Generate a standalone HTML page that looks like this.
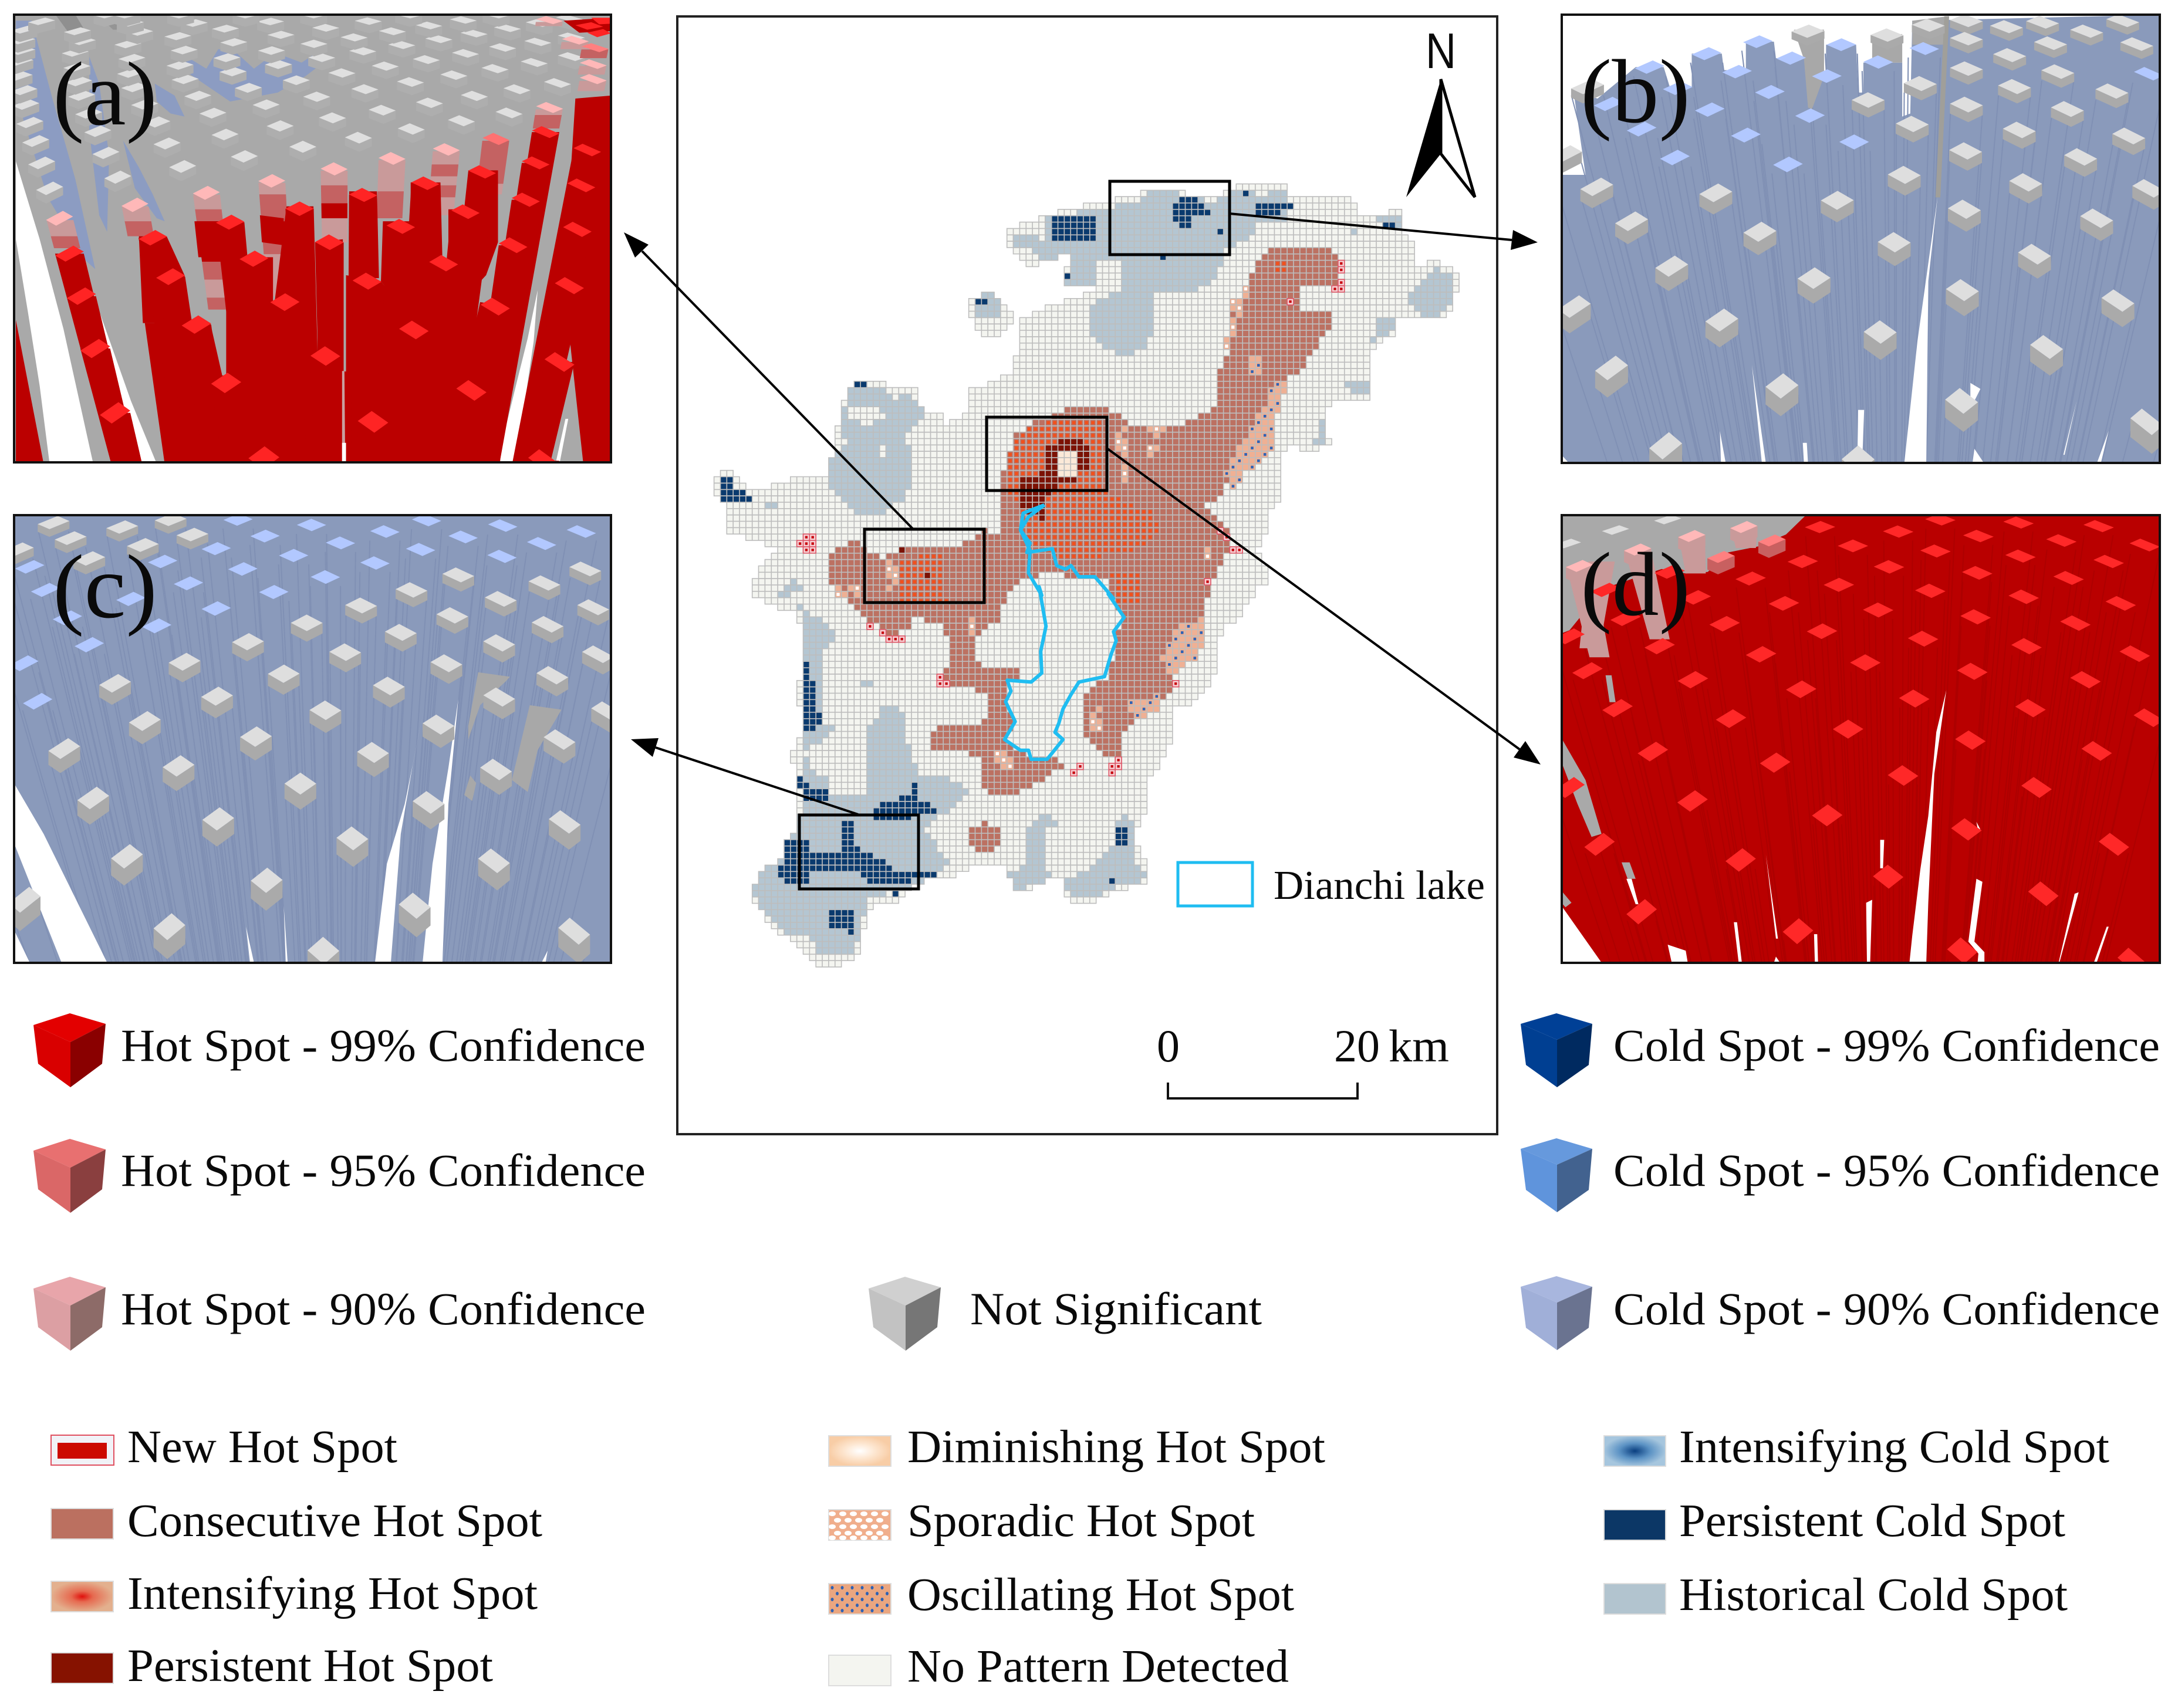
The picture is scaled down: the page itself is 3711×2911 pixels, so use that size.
<!DOCTYPE html>
<html lang="en">
<head>
<meta charset="utf-8">
<title>Hot spot analysis of Dianchi lake region</title>
<style>
html,body{margin:0;padding:0;background:#fff}
svg{display:block}
text{font-family:"Liberation Serif",serif;fill:#0a0a0a}
</style>
</head>
<body>
<svg id="fig" xmlns="http://www.w3.org/2000/svg" width="3711" height="2911" viewBox="0 0 3711 2911">
<defs>
<radialGradient id="gInt"><stop offset="0" stop-color="#e0100c"/><stop offset=".35" stop-color="#e66a50"/><stop offset="1" stop-color="#e3b08e"/></radialGradient>
<radialGradient id="gDim"><stop offset="0" stop-color="#ffffff"/><stop offset=".5" stop-color="#fde6d0"/><stop offset="1" stop-color="#f8cda6"/></radialGradient>
<radialGradient id="gCold"><stop offset="0" stop-color="#0a3f80"/><stop offset=".5" stop-color="#5b92c4"/><stop offset="1" stop-color="#a6c6de"/></radialGradient>
<clipPath id="clipA"><rect x="35" y="10" width="1505" height="1495"/></clipPath>
<clipPath id="clipB"><rect x="30" y="10" width="1492" height="1497"/></clipPath>
<clipPath id="clipC"><rect x="35" y="35" width="1505" height="1495"/></clipPath>
<clipPath id="clipD"><rect x="30" y="35" width="1492" height="1495"/></clipPath>
</defs>

<rect x="1154" y="28" width="1397" height="1905" fill="#fff" stroke="#222" stroke-width="4"/>
<g id="mapCells"></g>
<polyline id="lake" fill="none" stroke="#1fbdf1" stroke-width="6" stroke-linejoin="round" points=""/>

<g fill="none" stroke="#000" stroke-width="5">
<rect x="1891" y="309" width="204" height="125"/>
<rect x="1681" y="711" width="205" height="125"/>
<rect x="1473" y="902" width="204" height="125"/>
<rect x="1362" y="1389" width="203" height="126"/>
</g>

<g transform="translate(0,20) scale(0.6761,0.5102)"><g id="panelA" clip-path="url(#clipA)"></g></g>
<g transform="translate(2640,20) scale(0.6831,0.5102)"><g id="panelB" clip-path="url(#clipB)"></g></g>
<g transform="translate(0,860) scale(0.6761,0.5102)"><g id="panelC" clip-path="url(#clipC)"></g></g>
<g transform="translate(2640,860) scale(0.6831,0.5102)"><g id="panelD" clip-path="url(#clipD)"></g></g>
<g fill="none" stroke="#111" stroke-width="4">
<rect x="24" y="25" width="1017" height="763"/>
<rect x="2661" y="25" width="1019" height="764"/>
<rect x="24" y="878" width="1017" height="763"/>
<rect x="2661" y="878" width="1019" height="763"/>
</g>
<text x="90" y="212" font-size="155" textLength="178" lengthAdjust="spacingAndGlyphs">(a)</text>
<text x="2693" y="208" font-size="155" textLength="187" lengthAdjust="spacingAndGlyphs">(b)</text>
<text x="90" y="1052" font-size="155" textLength="178" lengthAdjust="spacingAndGlyphs">(c)</text>
<text x="2693" y="1048" font-size="155" textLength="187" lengthAdjust="spacingAndGlyphs">(d)</text>

<g stroke="#000" stroke-width="4" fill="#000">
<g><line x1="1556" y1="902" x2="1094" y2="428"/><polygon stroke="none" points="1063,396 1105,417 1082,439"/></g>
<g><line x1="2095" y1="364" x2="2576" y2="409"/><polygon stroke="none" points="2620,413 2574,426 2578,392"/></g>
<g><line x1="1886" y1="764" x2="2589" y2="1277"/><polygon stroke="none" points="2625,1303 2579,1291 2599,1263"/></g>
<g><line x1="1462" y1="1388" x2="1117" y2="1274"/><polygon stroke="none" points="1075,1260 1122,1258 1112,1290"/></g>
</g>

<g>
<text x="2429" y="116" font-size="85" textLength="52" lengthAdjust="spacingAndGlyphs" style="font-family:'Liberation Sans',sans-serif">N</text>
<polygon points="2455,135 2396,336 2455,262" fill="#000"/>
<polygon points="2455,135 2513,336 2455,262" fill="#fff" stroke="#000" stroke-width="5"/>
</g>

<g>
<rect x="2007" y="1470" width="127" height="74" fill="#fff" stroke="#1fbdf1" stroke-width="5"/>
<text x="2170" y="1532" font-size="70" textLength="360" lengthAdjust="spacingAndGlyphs">Dianchi lake</text>
</g>

<g>
<polyline points="1990,1845 1990,1872 2313,1872 2313,1845" fill="none" stroke="#111" stroke-width="4"/>
<text x="1971" y="1809" font-size="78">0</text>
<text x="2273" y="1809" font-size="78">20</text>
<text x="2366" y="1809" font-size="78" textLength="103" lengthAdjust="spacingAndGlyphs">km</text>
</g>

<g>
<g>
<polygon points="57,1747 119,1727 180,1745 120,1776" fill="#e30000"/><polygon points="57,1747 120,1776 120,1853 65,1813" fill="#d90000"/><polygon points="180,1745 120,1776 120,1853 174,1813" fill="#8a0000"/>
<text x="206" y="1808" font-size="78" textLength="894" lengthAdjust="spacingAndGlyphs">Hot Spot - 99% Confidence</text></g>
<g transform="translate(0,214)">
<polygon points="57,1747 119,1727 180,1745 120,1776" fill="#e87070"/><polygon points="57,1747 120,1776 120,1853 65,1813" fill="#da6767"/><polygon points="180,1745 120,1776 120,1853 174,1813" fill="#8a3f3f"/>
<text x="206" y="1807" font-size="78" textLength="894" lengthAdjust="spacingAndGlyphs">Hot Spot - 95% Confidence</text></g>
<g transform="translate(0,449)">
<polygon points="57,1747 119,1727 180,1745 120,1776" fill="#e8a5aa"/><polygon points="57,1747 120,1776 120,1853 65,1813" fill="#dc9fa3"/><polygon points="180,1745 120,1776 120,1853 174,1813" fill="#8d6b68"/>
<text x="206" y="1808" font-size="78" textLength="894" lengthAdjust="spacingAndGlyphs">Hot Spot - 90% Confidence</text></g>
<g transform="translate(1423,449)">
<polygon points="57,1747 119,1727 180,1745 120,1776" fill="#d0d0d0"/><polygon points="57,1747 120,1776 120,1853 65,1813" fill="#c2c2c2"/><polygon points="180,1745 120,1776 120,1853 174,1813" fill="#767676"/>
<text x="230" y="1808" font-size="78" textLength="497" lengthAdjust="spacingAndGlyphs">Not Significant</text></g>
<g>
<polygon points="2591,1745 2652,1727 2713,1745 2653,1772" fill="#004096"/><polygon points="2591,1745 2653,1772 2653,1853 2600,1815" fill="#003f92"/><polygon points="2713,1745 2653,1772 2653,1853 2707,1815" fill="#002a60"/>
<text x="2749" y="1808" font-size="78" textLength="931" lengthAdjust="spacingAndGlyphs">Cold Spot - 99% Confidence</text></g>
<g transform="translate(0,213)">
<polygon points="2591,1745 2652,1727 2713,1745 2653,1772" fill="#6699dd"/><polygon points="2591,1745 2653,1772 2653,1853 2600,1815" fill="#5f94dc"/><polygon points="2713,1745 2653,1772 2653,1853 2707,1815" fill="#42628f"/>
<text x="2749" y="1808" font-size="78" textLength="931" lengthAdjust="spacingAndGlyphs">Cold Spot - 95% Confidence</text></g>
<g transform="translate(0,448)">
<polygon points="2591,1745 2652,1727 2713,1745 2653,1772" fill="#a8b6de"/><polygon points="2591,1745 2653,1772 2653,1853 2600,1815" fill="#a0afd8"/><polygon points="2713,1745 2653,1772 2653,1853 2707,1815" fill="#6a7390"/>
<text x="2749" y="1809" font-size="78" textLength="931" lengthAdjust="spacingAndGlyphs">Cold Spot - 90% Confidence</text></g>
</g>

<g>
<g><rect x="87" y="2446" width="107" height="51" fill="#f1f2f7" stroke="#e05060" stroke-width="2"/><rect x="98" y="2459" width="84" height="27" fill="#cc0a00"/><text x="217" y="2492" font-size="79" textLength="460" lengthAdjust="spacingAndGlyphs">New Hot Spot</text></g>
<g><rect x="87" y="2571" width="106" height="52" fill="#bb7060" stroke="#ddd" stroke-width="2"/><text x="217" y="2618" font-size="79" textLength="707" lengthAdjust="spacingAndGlyphs">Consecutive Hot Spot</text></g>
<g><rect x="87" y="2695" width="106" height="52" fill="url(#gInt)" stroke="#ddd" stroke-width="2"/><text x="217" y="2742" font-size="79" textLength="699" lengthAdjust="spacingAndGlyphs">Intensifying Hot Spot</text></g>
<g><rect x="87" y="2817" width="106" height="52" fill="#861200" stroke="#ddd" stroke-width="2"/><text x="217" y="2865" font-size="79" textLength="623" lengthAdjust="spacingAndGlyphs">Persistent Hot Spot</text></g>
<g><rect x="1412" y="2447" width="106" height="52" fill="url(#gDim)" stroke="#ddd" stroke-width="2"/><text x="1546" y="2492" font-size="79" textLength="712" lengthAdjust="spacingAndGlyphs">Diminishing Hot Spot</text></g>
<g><rect x="1412" y="2573" width="106" height="52" fill="#f0ae8c" stroke="#ddd" stroke-width="2"/><g id="swSpoDots" fill="#fff"></g><text x="1546" y="2618" font-size="79" textLength="592" lengthAdjust="spacingAndGlyphs">Sporadic Hot Spot</text></g>
<g><rect x="1412" y="2699" width="106" height="52" fill="#eaa680" stroke="#ddd" stroke-width="2"/><g id="swOscDots" fill="#2f62b4"></g><text x="1546" y="2744" font-size="79" textLength="659" lengthAdjust="spacingAndGlyphs">Oscillating Hot Spot</text></g>
<g><rect x="1412" y="2821" width="106" height="52" fill="#f4f5f0" stroke="#ddd" stroke-width="2"/><text x="1546" y="2866" font-size="79" textLength="650" lengthAdjust="spacingAndGlyphs">No Pattern Detected</text></g>
<g><rect x="2733" y="2447" width="105" height="52" fill="url(#gCold)" stroke="#ddd" stroke-width="2"/><text x="2861" y="2492" font-size="79" textLength="733" lengthAdjust="spacingAndGlyphs">Intensifying Cold Spot</text></g>
<g><rect x="2733" y="2573" width="105" height="52" fill="#0c3766" stroke="#ddd" stroke-width="2"/><text x="2861" y="2618" font-size="79" textLength="658" lengthAdjust="spacingAndGlyphs">Persistent Cold Spot</text></g>
<g><rect x="2733" y="2699" width="105" height="52" fill="#b2c4cf" stroke="#ddd" stroke-width="2"/><text x="2861" y="2744" font-size="79" textLength="662" lengthAdjust="spacingAndGlyphs">Historical Cold Spot</text></g>
</g>
</svg>

<script>
var NS = 'http://www.w3.org/2000/svg';

/* ---------- map regions (traced outlines; y >= 2000 marks lower-map trace) ---------- */
var footprintRegions = [
[630,580,700,545,795,510,870,490,905,475,930,475,1010,505,1060,465,1145,460,1150,500,1260,490,1290,540,1320,545,1365,530,1370,600,1390,620,1390,680,1430,670,1475,700,1465,790,1440,820,1400,820,1355,810,1355,860,1310,900,1310,970,1305,1040,1240,1040,1215,1090,1230,1150,1190,1180,1170,1165,1150,1160,1135,1200,1135,1300,1110,1350,1110,1400,1095,1440,1110,1480,1110,1540,1095,2000,1060,2090,1030,2100,1015,2230,1000,2285,975,2320,930,2340,940,2395,925,2465,890,2540,890,2620,875,2650,865,2700,890,2780,880,2830,840,2840,780,2885,740,2870,730,2810,700,2800,660,2850,635,2830,625,2780,575,2770,540,2795,500,2810,470,2800,425,2870,370,2890,360,2920,340,3030,280,3065,255,3040,210,2975,170,2920,140,2850,160,2800,220,2730,235,2640,220,2460,240,2400,232,2290,245,2150,230,2070,195,2060,150,2030,150,1510,195,1430,100,1390,100,1330,75,1285,80,1240,105,1220,130,1270,175,1270,235,1240,290,1250,300,1190,310,1070,330,1010,350,980,370,985,410,1000,450,1000,455,1060,500,1070,510,1100,545,1080,560,1000,600,995,640,960,650,820,700,790,730,780,760,760,790,740,730,735,745,650,700,660,670,700,660,665,625,625],
[550,780,580,750,605,770,635,810,630,845,595,875,575,870,560,820]
];
var historicalColdRegions = [
[635,595,670,600,700,610,700,545,800,530,870,505,905,475,930,480,1010,510,1060,475,1110,490,1145,475,1150,560,1090,560,1085,600,1060,615,1030,640,1025,690,1000,735,960,750,905,750,905,860,875,905,845,925,815,905,780,860,775,810,790,770,840,750,840,665,795,665,795,735,735,735,745,650,695,665,670,640,635,625],
[560,770,590,750,608,775,608,820,560,820],
[1380,760,1430,685,1465,700,1460,770,1440,820,1410,810,1380,785],
[1305,885,1330,810,1355,810,1350,850,1310,890],
[1255,980,1305,980,1305,1025,1270,1025],
[1208,1085,1230,1090,1225,1150,1205,1150],
[1270,580,1295,600,1280,612],
[1320,545,1365,545,1365,575,1330,575],
[330,1010,400,1005,410,1040,435,1015,465,1065,465,1095,430,1130,450,1190,450,1220,440,1270,425,1310,380,1350,340,1350,330,1320,295,1280,295,1200,320,1150,315,1070],
[170,1305,195,1305,195,1325,170,1325],
[195,1560,225,1515,245,1560,240,2000,195,2040],
[232,2040,270,2090,305,2130,280,2180,282,2380,305,2390,280,2430,245,2450,250,2500,285,2530,285,2575,362,2575,355,2420,365,2390,390,2340,425,2340,440,2450,460,2520,520,2535,550,2565,520,2620,470,2665,490,2720,515,2770,490,2800,420,2850,365,2860,345,2960,340,3030,270,3030,268,2985,210,2960,170,2910,145,2850,165,2790,210,2750,235,2640,245,2580,245,2450,235,2400,245,2300,245,2170],
[660,2670,690,2630,730,2650,700,2670,695,2760,710,2810,670,2830,640,2850,630,2800,660,2760],
[780,2790,830,2700,835,2630,855,2640,865,2700,860,2770,885,2790,880,2830,835,2830,780,2870,745,2870,730,2810],
[352,2265,368,2265,368,2285,352,2285]
];
var noPatternHoles = [
[330,1050,400,1070,370,1110,330,1090],
[380,1150,400,1150,400,1185,380,1185]
];
var consecutiveHotRegions = [
[1120,635,1190,625,1245,640,1245,730,1180,735,1170,800,1230,805,1230,850,1195,925,1165,975,1140,985,1125,1045,1115,1110,1075,1130,1055,1180,1040,1260,1025,1300,1000,1320,1050,1400,1020,1500,1000,1568,605,1568,605,1400,620,1290,610,1260,640,1130,670,1100,760,1050,805,1050,840,1080,860,1105,950,1105,1020,1060,1015,970,1040,920,1050,800,1090,680],
[295,1445,340,1415,390,1460,435,1430,500,1430,530,1440,580,1380,610,1400,650,1568,650,2000,625,2060,610,2090,600,2110,560,2140,565,2215,680,2235,670,2240,625,2260,620,2310,640,2370,620,2420,640,2460,680,2470,750,2490,720,2510,680,2550,625,2590,585,2570,570,2470,478,2445,480,2400,500,2385,580,2380,590,2300,500,2260,510,2230,520,2180,505,2100,450,2090,445,2125,395,2130,390,2120,345,2070,300,2010,295,2000],
[830,2000,1000,2000,1000,2070,990,2100,915,2200,940,2280,905,2340,860,2380,838,2410,838,2470,810,2470,770,2420,770,2300,810,2250,825,2190,825,2130,845,2090,815,2020],
[580,2650,610,2680,610,2720,590,2740,565,2740,550,2710,550,2680]
];
var lakeInteriorRegion = [640,1530,690,1500,810,1520,815,2020,845,2090,825,2130,825,2190,810,2255,760,2265,730,2340,715,2405,730,2425,690,2480,650,2460,620,2425,640,2380,625,2310,640,2290,680,2240,565,2215,565,2140,610,2090,625,2030];
var sporadicRegions = [
[1045,780,1070,730,1085,730,1060,830,1045,900,1035,910],
[880,1105,930,1105,930,1130,880,1130],
[905,1130,915,1130,900,1200,880,1200],
[830,1100,855,1100,850,1260,840,1260],
[780,2340,805,2340,805,2400,780,2400],
[400,1465,416,1465,416,1550,400,1550],
[1000,1410,1012,1410,1012,1460,1000,1460],
[605,2460,632,2460,632,2510,605,2510],
[300,1540,345,1540,345,1568,300,1568],
[550,2090,562,2090,562,2140,550,2140]
];
var oscillatingRegions = [
[1125,990,1155,980,1130,1080,1130,1170,1075,1230,1050,1280,1035,1230,1075,1130,1085,1100,1115,1050],
[945,2100,990,2090,1000,2130,980,2200,930,2250,915,2200,935,2150],
[855,2320,915,2300,905,2350,860,2370],
[1075,915,1110,915,1105,970,1075,970]
];
var intensifyingHotRegions = [
[650,1130,680,1100,760,1090,810,1090,810,1280,820,1290,900,1340,915,1380,880,1430,830,1450,720,1470,660,1400,640,1300,620,1270,625,1160],
[415,1470,500,1440,510,1568,525,2050,415,2050],
[1125,660,1155,660,1155,700,1125,700],
[820,1500,880,1500,880,2050,835,2050]
];
var persistentHotRegions = [
[705,1155,740,1135,770,1140,780,1180,780,1220,755,1225,750,1260,690,1260,700,1160],
[650,1240,710,1230,720,1280,690,1290,700,1360,650,1330],
[425,1430,438,1430,438,1445,425,1445],
[463,1498,475,1498,475,1512,463,1512]
];
var diminishingRegions = [[720,1180,755,1170,755,1250,715,1250]];
var persistentColdRegions = [
[708,545,792,545,792,612,708,612],
[950,495,985,495,985,510,1010,530,1010,545,975,545,975,575,950,575,940,555,940,510],
[1062,475,1085,475,1085,490,1062,490],
[1088,510,1158,510,1158,530,1110,545,1088,560],
[1025,580,1037,580,1037,595,1025,595],
[915,650,925,650,925,665,915,665],
[733,700,743,700,743,716,733,716],
[562,770,585,770,585,785,562,785],
[1330,565,1352,565,1352,578,1330,578],
[342,995,365,995,365,1010,342,1010],
[87,1240,110,1240,110,1270,135,1275,147,1320,87,1305,85,1275],
[245,2210,257,2210,257,2260,270,2270,270,2350,280,2370,255,2410,235,2390,245,2360,245,2290,235,2280,245,2260],
[233,2520,245,2520,250,2560,292,2560,292,2595,250,2595,233,2560],
[440,2545,462,2545,462,2590,488,2615,488,2630,415,2650,370,2645,380,2620,395,2595,440,2585],
[320,2650,342,2650,342,2720,365,2745,400,2765,405,2785,495,2785,495,2810,440,2815,440,2830,370,2830,345,2800,258,2790,245,2830,215,2830,195,2800,210,2710,245,2690,257,2740,310,2730],
[405,2850,425,2850,425,2865,405,2865],
[285,2905,340,2905,340,2960,285,2960],
[320,2960,340,2960,340,2975,320,2975],
[830,2670,855,2670,855,2720,830,2720],
[818,2815,830,2815,830,2830,818,2830]
];
var newHotCells = [1250,675,1250,692,1250,725,1240,743,1252,743,1163,777,238,1418,250,1400,262,1400,250,1418,262,1418,250,1436,262,1436,1030,1382,1042,1400,1045,1445,1055,1445,1065,1445,1005,1522,372,2110,385,2128,397,2148,420,2148,432,2148,495,2258,495,2275,507,2275,945,2275,762,2495,750,2513,835,2475,835,2495,823,2495,823,2515];
var lakeLine = [695,1318,655,1340,650,1385,668,1420,662,1445,710,1435,718,1480,735,1490,745,1480,760,1510,790,1510,825,1568,815,2020,845,2085,825,2125,830,2150,820,2190,808,2250,760,2265,745,2300,730,2340,722,2380,715,2405,730,2425,700,2480,670,2480,665,2455,650,2455,620,2425,640,2375,622,2320,632,2290,625,2260,670,2265,690,2240,688,2180,698,2110,685,2000,690,1560,665,1500,668,1440,650,1385,665,1350,695,1318];

function toX(x){return 1150+x/1.104;}
function toY(y){return y>=2000 ? 1000+(y-2000)/1.632 : 20+y/1.568;}
function convert(p){var o=[];for(var i=0;i<p.length;i+=2){o.push(toX(p[i]),toY(p[i+1]));}return o;}
function inside(p,x,y){var c=false;for(var i=0,j=p.length-2;i<p.length;j=i,i+=2){var yi=p[i+1],yj=p[j+1];if((yi>y)!==(yj>y)&&x<(p[j]-p[i])*(y-yi)/(yj-yi)+p[i]){c=!c;}}return c;}
function anyIn(list,x,y){for(var i=0;i<list.length;i++){if(inside(list[i],x,y)){return true;}}return false;}

var GX=1802.5,GY=367.7,P=10.85;
var fpC=footprintRegions.map(convert),hcC=historicalColdRegions.map(convert),npC=noPatternHoles.map(convert),
    conC=consecutiveHotRegions.map(convert),lakeC=convert(lakeInteriorRegion),spoC=sporadicRegions.map(convert),
    oscC=oscillatingRegions.map(convert),intC=intensifyingHotRegions.map(convert),phC=persistentHotRegions.map(convert),
    dimC=diminishingRegions.map(convert),pcC=persistentColdRegions.map(convert);
var newSet={};
(function(){for(var i=0;i<newHotCells.length;i+=2){var c=Math.floor((toX(newHotCells[i])-GX)/P),r=Math.floor((toY(newHotCells[i+1])-GY)/P);newSet[c+'_'+r]=1;}})();

var cellPaths={np:'',hc:'',con:'',int:'',ph:'',dim:'',spo:'',osc:'',pc:'',nw:''};
var dotPaths={int:'',nw:'',osc:'',spo:''};
function sq(x,y,s){return 'M'+x.toFixed(1)+' '+y.toFixed(1)+'h'+s+'v'+s+'h-'+s+'z';}
for(var c=-62;c<72;c++){for(var r=-6;r<125;r++){
  var X=GX+(c+.5)*P,Y=GY+(r+.5)*P,t='';
  if(anyIn(fpC,X,Y)){t='np';}
  if(anyIn(hcC,X,Y)){t='hc';}
  if(anyIn(npC,X,Y)){t='np';}
  if(anyIn(conC,X,Y)){t='con';}
  if(inside(lakeC,X,Y)){t='np';}
  if(t==='con'&&anyIn(intC,X,Y)){t='int';}
  if(t&&anyIn(spoC,X,Y)&&Math.abs(c*5+r*3)%4!==0){t='spo';}
  if(t&&anyIn(oscC,X,Y)){t='osc';}
  if(anyIn(phC,X,Y)){t='ph';}
  if(anyIn(dimC,X,Y)){t='dim';}
  if(anyIn(pcC,X,Y)){t='pc';}
  if(newSet[c+'_'+r]){t='nw';}
  if(!t){continue;}
  var x0=GX+c*P,y0=GY+r*P;
  cellPaths[t]+=sq(x0,y0,P);
  if(t==='int'){dotPaths.int+=sq(x0+2.6,y0+2.6,5.6);}
  if(t==='nw'){dotPaths.nw+=sq(x0+3.2,y0+3.2,4.4);}
  if(t==='osc'&&Math.abs(c*7+r*13)%3===0){dotPaths.osc+=sq(x0+3.2,y0+3,4.6);}
  if(t==='spo'&&Math.abs(c*3+r*5)%2===0){dotPaths.spo+=sq(x0+2.6,y0+2.6,5.4);}
}}
var cellFills={np:'#f4f5f0',hc:'#b4c6d2',con:'#bc7162',int:'#bc7162',ph:'#7c1204',dim:'#fbe9d8',spo:'#efb094',osc:'#efb094',pc:'#0a3a6e',nw:'#f6d3d6'};
var mapG=document.getElementById('mapCells');
['np','hc','con','int','ph','dim','spo','osc','pc','nw'].forEach(function(k){
  if(!cellPaths[k]){return;}
  var el=document.createElementNS(NS,'path');
  
  
  el.setAttribute('d',cellPaths[k]);
  el.setAttribute('fill',cellFills[k]);
  el.setAttribute('stroke',k==='nw'?'#dd5566':'#bdbdbd');
  el.setAttribute('stroke-width','1.6');
  mapG.appendChild(el);
});
var dotFills={int:'#f2501c',nw:'#c80a10',osc:'#2f62b4',spo:'#ffffff'};
['int','nw','osc','spo'].forEach(function(k){
  if(!dotPaths[k]){return;}
  var el=document.createElementNS(NS,'path');
  
  
  el.setAttribute('d',dotPaths[k]);
  el.setAttribute('fill',dotFills[k]);
  mapG.appendChild(el);
});
(function(){var q=convert(lakeLine),s=[];for(var i=0;i<q.length;i+=2){s.push(q[i].toFixed(1)+','+q[i+1].toFixed(1));}document.getElementById('lake').setAttribute('points',s.join(' '));})();

/* ---------- legend swatch textures ---------- */
var sporadicSwatchRows = [2580,2591,2602,2613,2621];
var oscillatingSwatchRows = [2706,2716,2726,2736,2745];
function swatchDots(id,rows,rx,ry,step){
  var g=document.getElementById(id);
  rows.forEach(function(y,i){
    for(var x=1418+(i%2)*step/2;x<1516;x+=step){
      var el=document.createElementNS(NS,'ellipse');
      
      
      el.setAttribute('cx',x);
      el.setAttribute('cy',y);
      el.setAttribute('rx',rx);
      el.setAttribute('ry',ry);
      g.appendChild(el);
    }
  });
}
swatchDots('swSpoDots',sporadicSwatchRows,6,4,18);
swatchDots('swOscDots',oscillatingSwatchRows,2.5,3,17);

/* ---------- drawing helpers for 3D insets ---------- */
function poly(g,p,fill,name){
  var el=document.createElementNS(NS,'polygon');
  
  
  el.setAttribute('points',p.map(function(v){return Math.round(v*10)/10;}).join(' '));
  el.setAttribute('fill',fill);
  g.appendChild(el);
}
function diamond(g,x,y,W,H,s,fill,name){
  poly(g,[x+s*W*.45,y-H,x+W,y-s*H*.4,x-s*W*.45,y+H,x-W,y+s*H*.4],fill,name);
}
function cube(g,x,y,W,H,D,s,top,side){
  poly(g,[x-W,y+s*H*.4,x-s*W*.45,y+H,x+W,y-s*H*.4,x+W,y-s*H*.4+D,x-s*W*.45,y+H+D,x-W,y+s*H*.4+D],side,'cube-side');
  diamond(g,x,y,W,H,s,top,'cube-top');
}
function tilt(x){return (760-x)/760;}
function leanX(x,y,yb){return x+(865-x)*(yb-y)/(4400-y);}
function wall(g,x,y,W,h0,h1,fill){
  var a=x-W,b=x+W;
  poly(g,[leanX(a,y,y+h0),y+h0,leanX(b,y,y+h0),y+h0,leanX(b,y,y+h1),y+h1,leanX(a,y,y+h1),y+h1],fill,'tower-wall');
}
function columnLines(g,list,W,color){
  list.forEach(function(t){
    [t[0]-W,t[0]+W].forEach(function(ex){
      var ey=t[1]+30,by=1535;
      poly(g,[ex-1.5,ey,ex+1.5,ey,leanX(ex,ey,by)+1.5,by,leanX(ex,ey,by)-1.5,by],color,'column-edge');
    });
  });
}

/* ---------- panel A ---------- */
var aWhite=[[40,500,100,760,160,1060,235,1510,125,1510,100,1250,70,1000,40,760],[190,755,250,1000,330,1300,395,1510,345,1510,300,1290,240,1050,200,860],[1355,930,1345,1100,1300,1510,1252,1510,1300,1250,1330,1090],[1432,1360,1410,1510,1400,1510,1425,1360]];
var aBlue=[[40,30,80,30,130,280,190,560,240,860,215,830,120,620,40,280],[225,150,250,240,275,480,270,735,250,680,225,400],[390,240,440,280,465,350,430,340,395,300],[310,430,350,520,385,610,415,700,395,690,340,590],[450,140,480,210,580,300,700,270,770,215,820,165,800,135,760,170,720,150,680,150,640,190,590,130,550,125,520,190,470,150]];
var aGrayRows=[[125,590,1283,338,9],[105,505,1405,238,11],[90,432,1440,150,12],[75,370,1440,83,13],[65,310,1435,22,14],[60,262,1250,10,12],[48,215,1030,10,9],[50,165,790,10,7],[55,130,620,10,5],[55,95,455,10,4],[60,60,270,10,2],[105,32,320,10,2]];
var aPinkPositions=[[150,690],[340,645],[520,605],[685,565],[842,525],[988,490],[1125,460],[1250,425],[1385,320],[1450,95],[1500,120],[1495,175],[1495,225],[1385,28]];
var aPinkTopColors=['#ffb8b8','#ffb8b8','#ffb8b8','#ffb8b8','#ffb8b8','#ffb8b8','#ffb8b8','#ff7272','#ffb8b8','#ffb8b8','#ff8080','#ffb8b8','#ffb8b8','#ffb8b8'];
var aPinkSegments=[
[['#c99a9a',60],['#c46262',100]],
[['#c99a9a',55],['#c46262',105]],
[['#c99a9a',55],['#c46262',95],['#bb0000',230],['#c46262',290],['#c99a9a',350],['#c46262',390]],
[['#c99a9a',45],['#c46262',135],['#bb0000',205],['#c46262',245],['#c99a9a',385]],
[['#c99a9a',55],['#c46262',115],['#bb0000',165],['#c99a9a',245]],
[['#c99a9a',110],['#c46262',200]],
[['#c99a9a',50],['#c46262',90],['#c99a9a',120],['#c46262',160],['#c99a9a',220]],
[['#c46262',150],['#c99a9a',185]],
[['#c99a9a',25],['#c46262',70]],
[['#c99a9a',30]],
[['#c46262',35]],
[['#c99a9a',35]],
[['#c99a9a',40]],
[['#c99a9a',20]]
];
var aRedTowers=[[1375,402],[1480,462],[1465,580],[1350,505],[1215,535],[1072,573],[915,612],[755,658],[580,703],[385,755],[175,808],[1325,628],[1173,668],[1010,717],[830,770],[640,825],[430,885],[205,950],[1455,727],[1293,780],[1118,840],[925,900],[718,970],[495,1045],[240,1125],[1435,915],[1248,985],[1043,1063],[820,1150],[570,1240],[290,1340],[1410,1170],[1188,1265],[940,1370],[665,1490],[1370,1500]];
var aRedMass=[[365,1040,530,1040,560,1215,690,1215,860,1200,1170,1250,1110,1510,415,1510],[40,1030,110,1510,40,1510],[1450,290,1540,280,1540,1510,1470,1510,1420,900,1440,500],[1420,30,1540,20,1540,65,1460,70]];
var aRedFill=[[350,750,420,750,465,880,480,1040,360,1040],[490,700,560,700,565,820,500,820],[655,680,715,690,715,780,660,770],[570,820,688,820,688,1220,570,1220],[722,650,790,650,793,1210,700,1210,692,970],[800,770,864,760,864,1210,800,1150],[880,600,950,600,955,890,880,890],[872,880,960,900,1040,1040,1040,1500,872,1500],[965,700,1040,700,1040,1040,960,900],[1035,570,1110,570,1115,830,1035,1010],[1130,660,1205,660,1195,930,1165,1240,1040,1240,1045,1050,1130,830],[1180,530,1255,530,1255,770,1225,880,1190,930],[1210,970,1285,985,1260,1510,1110,1510,1165,1240]];
(function(){
  var g=document.getElementById('panelA');
  poly(g,[0,0,1600,0,1600,1600,0,1600],'#a9a9a9','panel-a-background');
  poly(g,[140,10,190,10,235,110,195,110],'#8f8f8f','shadow');
  poly(g,[245,10,290,10,330,60,285,60],'#959595','shadow');
  aWhite.forEach(function(p){poly(g,p,'#ffffff','empty-gap');});
  aBlue.forEach(function(p){poly(g,p,'#8c9cc2','cold-band');});
  aGrayRows.forEach(function(row){
    var n=row[4],rr=.95;
    for(var i=0;i<n;i++){
      var t=n>1?(1-Math.pow(rr,i))/(1-Math.pow(rr,n-1)):0;
      var x=row[0]+(row[2]-row[0])*t,y=row[1]+(row[3]-row[1])*t;
      cube(g,x,y,34,12+y*.018,28,tilt(x)*.7,'#dfdfdf','#aeaeae');
    }
  });
  aRedMass.forEach(function(p){poly(g,p,'#bb0000','red-mass');});
  aPinkPositions.forEach(function(pos,i){
    var x=pos[0],y=pos[1],last=6;
    aPinkSegments[i].forEach(function(s){wall(g,x,y,34,last,s[1],s[0]);last=s[1];});
    diamond(g,x,y,34,13+y*.017,tilt(x)*.7,aPinkTopColors[i],'pink-top');
  });
  aRedFill.forEach(function(p){poly(g,p,'#bb0000','red-mass');});
  aRedTowers.forEach(function(t){
    var x=t[0],y=t[1],W=33+y*.004;
    wall(g,x,y,W,0,1530-y,'#bb0000');
    diamond(g,x,y,W,13+y*.017,tilt(x)*.8,'#ff2424','red-top');
  });
  poly(g,[862,1200,868,1200,870,1510,862,1510],'#c9a0a0','gap-line');
  poly(g,[862,1440,872,1440,872,1510,862,1510],'#ffffff','gap-line');
  poly(g,[1450,45,1490,35,1520,50,1480,60],'#ff2424','red-top');
  poly(g,[1490,20,1540,20,1540,40,1510,42],'#ff2424','red-top');
  poly(g,[1480,70,1520,58,1540,72,1505,85],'#ff2424','red-top');
})();

/* ---------- panel B ---------- */
var bSkyline=[30,1510,30,545,90,545,60,265,120,290,215,185,285,185,300,250,355,250,355,140,430,140,435,195,490,195,490,100,560,100,565,155,640,155,690,215,690,110,765,110,770,270,783,270,783,170,880,170,880,350,900,340,905,30,1530,10,1530,1510];
var bGrayShapes=[[610,60,685,60,685,215,655,325,645,320,635,160],[805,75,880,75,880,170,805,170],[905,30,995,15,990,110,905,110]];
var bWhite=[[968,620,945,900,940,1510,885,1510,918,1100],[505,1180,540,1510,530,1510],[425,1400,440,1510,428,1510],[770,1330,785,1330,780,1510,768,1510],[1050,1240,1075,1260,1060,1300,1050,1290],[1060,1460,1085,1510,1055,1510],[1315,1300,1285,1480,1282,1480],[1395,1400,1375,1510,1365,1510],[30,1480,50,1510,30,1510],[632,1440,642,1440,645,1510,635,1510]];
var bGrayCubes=[[645,65],[842,78],[945,45],[1040,30],[1140,50],[1230,35],[1340,65],[1040,90],[1250,105],[1430,30],[1465,108],[1148,145],[1040,190],[1268,200],[925,240],[795,295],[1160,250],[1403,265],[1040,310],[1292,325],[905,375],[1172,395],[1445,415],[1038,465],[1325,485],[885,545],[1188,570],[415,605],[718,630],[1495,590],[118,585],[205,700],[1035,660],[1365,690],[525,735],[860,770],[305,850],[1210,810],[660,890],[1030,930],[1418,965],[62,985],[430,1030],[825,1070],[1240,1120],[155,1190],[580,1250],[1028,1300],[1490,1370],[290,1450],[770,1495],[95,250],[40,475]];
var bBlueTops=[[520,100],[728,110],[392,140],[603,155],[250,185],[468,200],[820,168],[692,215],[935,123],[550,268],[320,255],[148,308],[400,327],[650,347],[230,392],[490,412],[760,435],[313,487],[595,510],[1495,207]];
(function(){
  var g=document.getElementById('panelB');
  poly(g,[0,0,1600,0,1600,1600,0,1600],'#ffffff','panel-b-background');
  poly(g,bSkyline,'#8a9abb','cold-columns');
  columnLines(g,bBlueTops.concat(bGrayCubes.slice(13)),40,'#8090b4');
  bGrayShapes.forEach(function(p){poly(g,p,'#a8a8a8','gray-wall');});
  poly(g,[985,15,997,15,975,620,963,620],'#a09f9a','gap-line');
  bWhite.forEach(function(p){poly(g,p,'#ffffff','empty-gap');});
  bBlueTops.forEach(function(t){diamond(g,t[0],t[1],37,20+t[1]*.012,tilt(t[0])*.7,'#b2c8ff','blue-top');});
  bGrayCubes.forEach(function(t){
    var y=t[1];
    cube(g,t[0],y,41,21+y*.017,24+y*.028,tilt(t[0])*.7,'#dedede','#aaaaaa');
  });
})();

/* ---------- panel C ---------- */
var cGrayShapes=[[1205,560,1285,575,1275,590,1210,670,1180,785,1180,740],[1335,670,1415,685,1355,820,1330,960,1290,920],[1185,905,1200,930,1190,990,1170,970]];
var cWhite=[[35,930,110,1100,270,1530,155,1530,35,1130],[35,1420,75,1530,35,1530],[1075,640,1040,870,1010,1100,985,1530,945,1530,975,1200,1020,1000],[1155,650,1130,1000,1115,1530,1065,1530,1090,1200,1130,880],[620,1410,640,1530,630,1530],[715,1340,725,1530,720,1530],[1380,1490,1365,1530,1375,1530]];
var cGrayCubes=[[135,60],[308,75],[430,50],[178,112],[360,135],[485,100],[45,150],[225,180],[1155,235],[1475,215],[1037,285],[1372,262],[910,337],[1262,315],[1495,343],[1140,370],[773,395],[1380,400],[1010,427],[625,458],[1258,462],[870,493],[1507,500],[465,525],[1125,530],[715,565],[1392,570],[290,597],[980,606],[1258,643],[547,640],[820,687],[365,723],[1105,735],[1410,785],[645,775],[162,815],[940,828],[1250,885],[450,873],[757,932],[235,980],[1080,995],[1423,1060],[550,1050],[888,1115],[320,1175],[1245,1190],[672,1255],[62,1320],[1045,1340],[427,1410],[1447,1425],[815,1490],[1530,690]];
var cBlueTops=[[600,50],[785,68],[1075,52],[1267,70],[970,90],[668,105],[1465,90],[1167,108],[858,128],[1365,130],[545,147],[1060,150],[740,170],[1265,173],[410,190],[945,195],[612,215],[820,242],[75,208],[475,263],[115,285],[690,292],[330,315],[545,347],[170,378],[395,405],[225,468],[60,530],[95,657]];
(function(){
  var g=document.getElementById('panelC');
  poly(g,[0,0,1600,0,1600,1600,0,1600],'#8a9abb','panel-c-background');
  columnLines(g,cBlueTops.concat(cGrayCubes),38,'#8090b4');
  cGrayShapes.forEach(function(p){poly(g,p,'#a8a8a8','gray-wall');});
  cWhite.forEach(function(p){poly(g,p,'#ffffff','empty-gap');});
  cBlueTops.forEach(function(t){diamond(g,t[0],t[1],37,20+t[1]*.012,tilt(t[0])*.7,'#b2c8ff','blue-top');});
  cGrayCubes.forEach(function(t){
    var y=t[1];
    cube(g,t[0],y,40,21+y*.017,24+y*.028,tilt(t[0])*.7,'#dedede','#aaaaaa');
  });
})();

/* ---------- panel D ---------- */
var dGrayRegion=[30,35,640,35,590,100,520,140,445,160,395,225,340,230,280,215,135,280,50,420,30,430];
var dWhite=[[990,620,975,760,960,900,955,1040,945,1330,940,1530,898,1530,905,1440,925,1220,945,1040,965,760],[825,1120,835,1120,832,1215,825,1215],[790,1330,805,1320,800,1530,792,1530],[1065,1250,1080,1260,1060,1460,1085,1495,1085,1530,1068,1530,1070,1500,1045,1460],[460,1395,468,1395,480,1530,472,1530],[540,1170,570,1450,565,1450],[660,1435,668,1435,670,1530,662,1530],[1310,1300,1320,1295,1272,1530,1270,1530],[1390,1410,1395,1410,1365,1530,1358,1530],[295,1470,340,1490,345,1530,305,1530],[1065,1060,1075,1085,1068,1082],[205,1250,222,1335,215,1335,192,1250],[565,1510,575,1530,560,1530],[30,1340,130,1530,30,1530]];
var dGrayStrips=[[30,780,90,920,130,1100,105,1110,70,1000,30,860],[180,1195,200,1195,215,1250,195,1250],[140,570,155,570,165,660,150,660],[30,1290,55,1330,40,1345,30,1330]];
var dRedTops=[[675,75],[870,90],[1070,105],[1277,120],[1485,135],[1170,60],[1370,72],[975,50],[757,138],[963,155],[1175,172],[1395,190],[632,190],[847,208],[1067,228],[1295,245],[502,247],[722,268],[950,288],[1183,308],[1425,330],[585,330],[820,352],[1063,375],[1312,396],[437,398],[680,423],[932,448],[1190,473],[1460,498],[275,473],[528,500],[788,528],[1055,557],[1337,585],[95,555],[358,585],[628,617],[910,648],[1200,680],[1495,712],[170,680],[453,715],[745,750],[1050,787],[1365,823],[258,825],[563,862],[882,905],[1215,945],[357,990],[693,1038],[1040,1085],[1408,1135],[125,1135],[477,1187],[845,1243],[1232,1300],[230,1360],[620,1425],[1030,1490],[1455,1525],[50,945],[50,440],[365,310],[300,225],[140,285],[190,380]];
var dGrayTops=[[165,85],[295,50],[45,130]];
var dPinkColumns=[[75,205,125,510],[355,105,365,230],[220,150,275,450],[485,75,490,145],[130,190,100,480]];
var dPinkCubes=[[485,75,'#ffb8b8','#c99a9a'],[555,120,'#ff8080','#c86060'],[428,175,'#ff8080','#c86060'],[355,105,'#ffb8b8','#c99a9a'],[220,150,'#ffb8b8','#c99a9a'],[75,205,'#ffb8b8','#c99a9a']];
(function(){
  var g=document.getElementById('panelD');
  poly(g,[0,0,1600,0,1600,1600,0,1600],'#b90000','panel-d-background');
  columnLines(g,dRedTops,36,'#ad0000');
  poly(g,dGrayRegion,'#a9a9a9','gray-corner');
  dPinkColumns.forEach(function(c){poly(g,[c[0]-33,c[1],c[0]+33,c[1],c[2]+25,c[3],c[2]-25,c[3]],'#c99a9a','pink-wall');});
  dGrayStrips.forEach(function(p){poly(g,p,'#a9a9a9','gray-strip');});
  dWhite.forEach(function(p){poly(g,p,'#ffffff','empty-gap');});
  dGrayTops.forEach(function(t){diamond(g,t[0],t[1],34,16,.6,'#dedede','gray-top');});
  dRedTops.forEach(function(t){
    var y=t[1];
    diamond(g,t[0],y,38,19+y*.017,tilt(t[0])*.7,'#ff2828','red-top');
  });
  dPinkCubes.forEach(function(c){cube(g,c[0],c[1],34,20,38,.5,c[2],c[3]);});
})();
</script>
</body>
</html>
